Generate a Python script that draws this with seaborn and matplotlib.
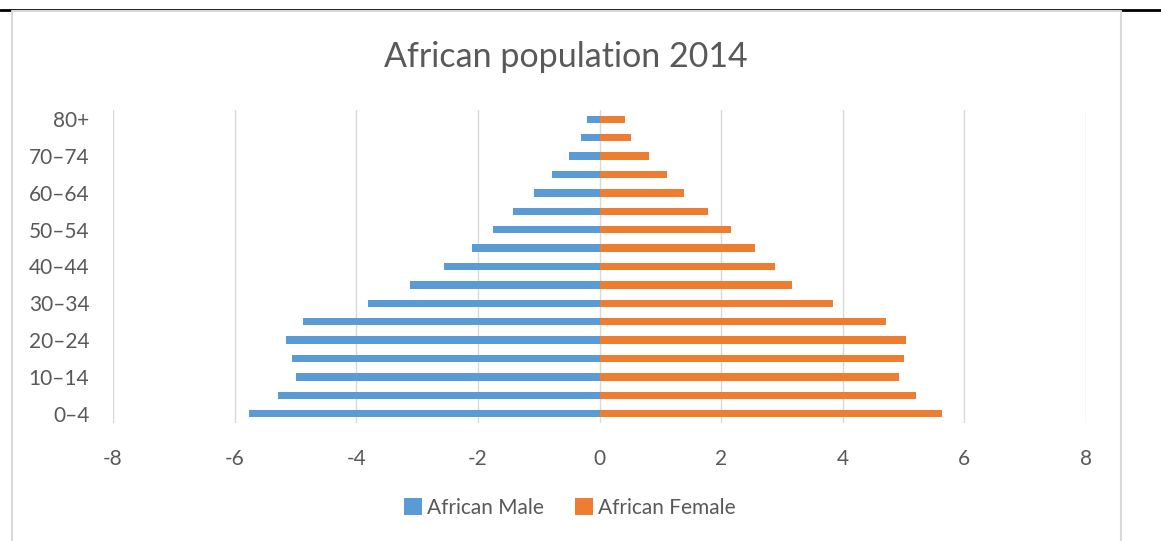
import matplotlib
matplotlib.use("Agg")
import matplotlib.pyplot as plt
from matplotlib.lines import Line2D
import seaborn as sns
import pandas as pd

# Age bands, youngest first
age_groups = ["0–4", "5–9", "10–14", "15–19", "20–24", "25–29", "30–34", "35–39",
              "40–44", "45–49", "50–54", "55–59", "60–64", "65–69", "70–74", "75–79", "80+"]
# Share of population (%) per age band
male = [5.76, 5.28, 4.99, 5.05, 5.16, 4.88, 3.80, 3.12, 2.55, 2.09, 1.75, 1.43,
        1.08, 0.78, 0.50, 0.31, 0.21]
female = [5.63, 5.20, 4.93, 5.00, 5.04, 4.71, 3.84, 3.16, 2.88, 2.55, 2.16, 1.78,
          1.39, 1.11, 0.82, 0.52, 0.42]
series_names = ["African Male", "African Female"]
x_ticks = [-8, -6, -4, -2, 0, 2, 4, 6, 8]

df = pd.concat([
    pd.DataFrame({"age": age_groups, "value": [-v for v in male], "sex": series_names[0]}),
    pd.DataFrame({"age": age_groups, "value": female, "sex": series_names[1]}),
])

sns.set_theme(style="white")
plt.rcParams["font.family"] = ["Lato", "DejaVu Sans"]
text_color = "#595959"
grid_color = "#D9D9D9"

fig = plt.figure(figsize=(11.61, 5.41), dpi=100)
ax = fig.add_axes([113 / 1161, 1 - 423 / 541, (1086 - 113) / 1161, (423 - 110) / 541])

order = age_groups[::-1]
sns.barplot(data=df, x="value", y="age", hue="sex", order=order,
            hue_order=series_names, palette=["#5B9BD5", "#ED7D31"],
            dodge=False, width=0.4, orient="h", ax=ax, saturation=1, zorder=3,
            linewidth=0)

ax.set_xlim(x_ticks[0], x_ticks[-1])
ax.set_ylim(len(order) - 0.5, -0.5)
ax.set_xticks(x_ticks)
ax.set_xticklabels([str(t) for t in x_ticks])
ax.set_yticks(range(0, len(order), 2))
ax.set_yticklabels(order[::2])
for t in x_ticks:
    ax.axvline(t, color=grid_color, lw=1.0, zorder=1)
for s in ax.spines.values():
    s.set_visible(False)
ax.tick_params(axis="both", length=0, labelsize=15, labelcolor=text_color)
ax.tick_params(axis="y", pad=17)
ax.tick_params(axis="x", pad=19)
ax.set_xlabel("")
ax.set_ylabel("")

fig.text(566 / 1161, 1 - 57 / 541, "African population 2014", ha="center", va="center",
         fontsize=24.5, color=text_color)

sns.move_legend(ax, "center", bbox_to_anchor=(570 / 1161, 1 - 508 / 541),
                bbox_transform=fig.transFigure, ncol=2, frameon=False, title=None,
                fontsize=15, handlelength=0.85, handleheight=0.85, handletextpad=0.25,
                columnspacing=1.5, labelcolor=text_color)

# Page rule and chart frame
fig.add_artist(Line2D([0, 1], [1 - 9.5 / 541] * 2, transform=fig.transFigure,
                      color="black", lw=2))
fig.add_artist(Line2D([12 / 1161, 12 / 1161, 1121 / 1161, 1121 / 1161],
                      [0, 1 - 11 / 541, 1 - 11 / 541, 0], transform=fig.transFigure,
                      color=grid_color, lw=1.5))

fig.savefig("out.png", dpi=100, facecolor="white")
